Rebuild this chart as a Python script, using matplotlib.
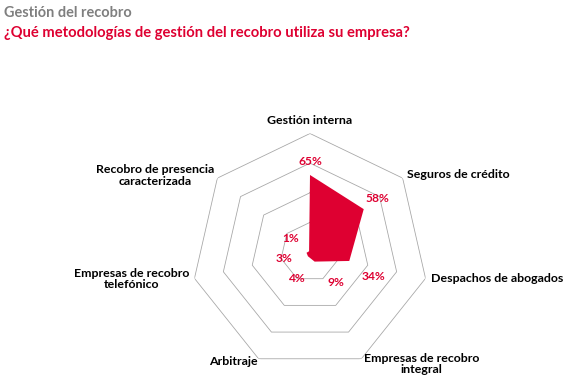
import matplotlib
matplotlib.use('Agg')
import matplotlib.pyplot as plt
import numpy as np

# datos
categorias = ['Gestión interna', 'Seguros de crédito', 'Despachos de abogados',
              'Empresas de recobro\nintegral', 'Arbitraje',
              'Empresas de recobro\ntelefónico', 'Recobro de presencia\ncaracterizada']
valores = [65, 58, 34, 9, 4, 3, 1]
anillos = [25, 50, 75, 100]

ROJO = '#DE0031'
GRIS = '#A6A6A6'

plt.rcParams['font.family'] = ['Lato', 'DejaVu Sans']

# dpi 72 -> 1 punto = 1 pixel
fig = plt.figure(figsize=(574 / 72, 390 / 72), dpi=72)
fig.patch.set_facecolor('white')

cx, cy, R = 310, 252, 118.5
W, H = 574, 390
ax = fig.add_axes([(cx - R) / W, (H - cy - R) / H, 2 * R / W, 2 * R / H], projection='polar')
ax.set_theta_zero_location('N')
ax.set_theta_direction(-1)
ax.set_ylim(0, 100)
ax.set_axis_off()

n = len(categorias)
angulos = np.linspace(0, 2 * np.pi, n, endpoint=False)
ang_c = np.append(angulos, angulos[0])

# anillos heptagonales
for r in anillos:
    ax.plot(ang_c, [r] * (n + 1), color=GRIS, lw=0.8, zorder=1)

# area
vals_c = np.append(valores, valores[0])
ax.fill(ang_c, vals_c, color=ROJO, lw=0, zorder=2)

# etiquetas de categorias (desplazamiento en px, y hacia abajo)
desp_cat = [(0, -13.5, 'center'), (4, -4, 'left'), (5, 0, 'left'), (60, 5, 'center'),
            (-25.6, 3, 'center'), (-62.5, 0.6, 'center'), (-62.4, -2.7, 'center')]
for a, txt, (dx, dy, ha) in zip(angulos, categorias, desp_cat):
    ax.annotate(txt, xy=(a, 100), xytext=(dx, -dy), textcoords='offset points',
                ha=ha, va='center', multialignment='center', fontsize=12.4,
                fontweight='bold', color='black', linespacing=1.05, annotation_clip=False)

# etiquetas de valores
desp_val = [(0, -13), (14, -11), (24, 16), (21, 21), (-11, 22), (-22, 6), (-18, -13)]
for a, v, (dx, dy) in zip(angulos, valores, desp_val):
    ax.annotate(f'{v}%', xy=(a, v), xytext=(dx, -dy), textcoords='offset points',
                ha='center', va='center', fontsize=12, fontweight='bold', color=ROJO,
                annotation_clip=False)

fig.text(4 / W, 1 - 13 / H, 'Gestión del recobro', ha='left', va='center',
         fontsize=14.5, fontweight='bold', color='#7F7F7F')
fig.text(4 / W, 1 - 33 / H, '¿Qué metodologías de gestión del recobro utiliza su empresa?',
         ha='left', va='center', fontsize=14.7, fontweight='bold', color=ROJO)

fig.savefig('out.png', dpi=72)
